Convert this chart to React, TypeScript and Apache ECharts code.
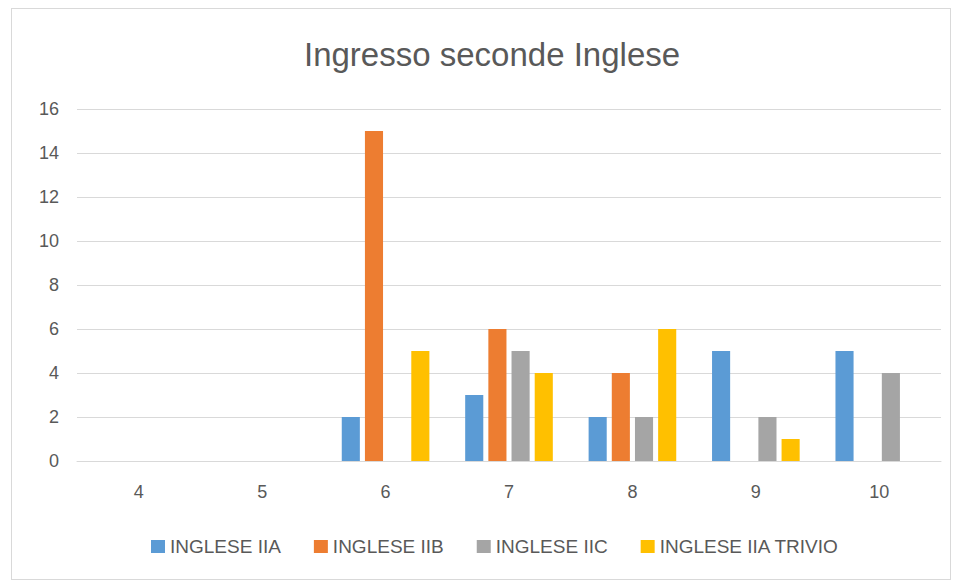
import React, { useEffect, useRef } from "react";
import * as echarts from "echarts";

const categories = ["4", "5", "6", "7", "8", "9", "10"];
const seriesNames = ["INGLESE IIA", "INGLESE IIB", "INGLESE IIC", "INGLESE IIA TRIVIO"];
const iia = [0, 0, 2, 3, 2, 5, 5];
const iib = [0, 0, 15, 6, 4, 0, 0];
const iic = [0, 0, 0, 5, 2, 2, 4];
const trivio = [0, 0, 5, 4, 6, 1, 0];
const colors = ["#5B9BD5", "#ED7D31", "#A5A5A5", "#FFC000"];

export default function App() {
  const ref = useRef<HTMLDivElement>(null);
  useEffect(() => {
    if (!ref.current) return;
    const chart = echarts.init(ref.current, undefined, { renderer: "svg" });
    const font = "Liberation Sans";
    const data = [iia, iib, iic, trivio];
    chart.setOption({
      animation: false,
      backgroundColor: "#fff",
      title: {
        text: "Ingresso seconde Inglese",
        left: 287,
        top: 24,
        textStyle: { fontFamily: font, fontSize: 33, fontWeight: "normal", color: "#595959" },
      },
      legend: {
        bottom: 18,
        left: 134,
        itemWidth: 14,
        itemHeight: 13,
        itemGap: 33,
        icon: "rect",
        textStyle: { fontFamily: font, fontSize: 19, color: "#595959", padding: [0, 0, 0, 0] },
        data: seriesNames,
      },
      grid: { left: 65, right: 9, top: 100, bottom: 118, containLabel: false },
      xAxis: {
        type: "category",
        data: categories,
        axisLine: { lineStyle: { color: "#D9D9D9", width: 1 } },
        axisTick: { show: false },
        axisLabel: { fontFamily: font, fontSize: 18, color: "#595959", margin: 22 },
      },
      yAxis: {
        type: "value",
        min: 0,
        max: 16,
        interval: 2,
        axisLine: { show: false },
        axisTick: { show: false },
        splitLine: { lineStyle: { color: "#D9D9D9" } },
        axisLabel: { fontFamily: font, fontSize: 18, color: "#595959", margin: 18 },
      },
      series: seriesNames.map((n, i) => ({
        name: n,
        type: "bar",
        data: data[i],
        itemStyle: { color: colors[i] },
        barGap: "28%",
        barCategoryGap: "29%",
      })),
    });
    return () => chart.dispose();
  }, []);
  return (
    <div
      ref={ref}
      style={{ width: 940, height: 572, border: "1px solid #D9D9D9", boxSizing: "border-box", marginLeft: 3 }}
    />
  );
}
